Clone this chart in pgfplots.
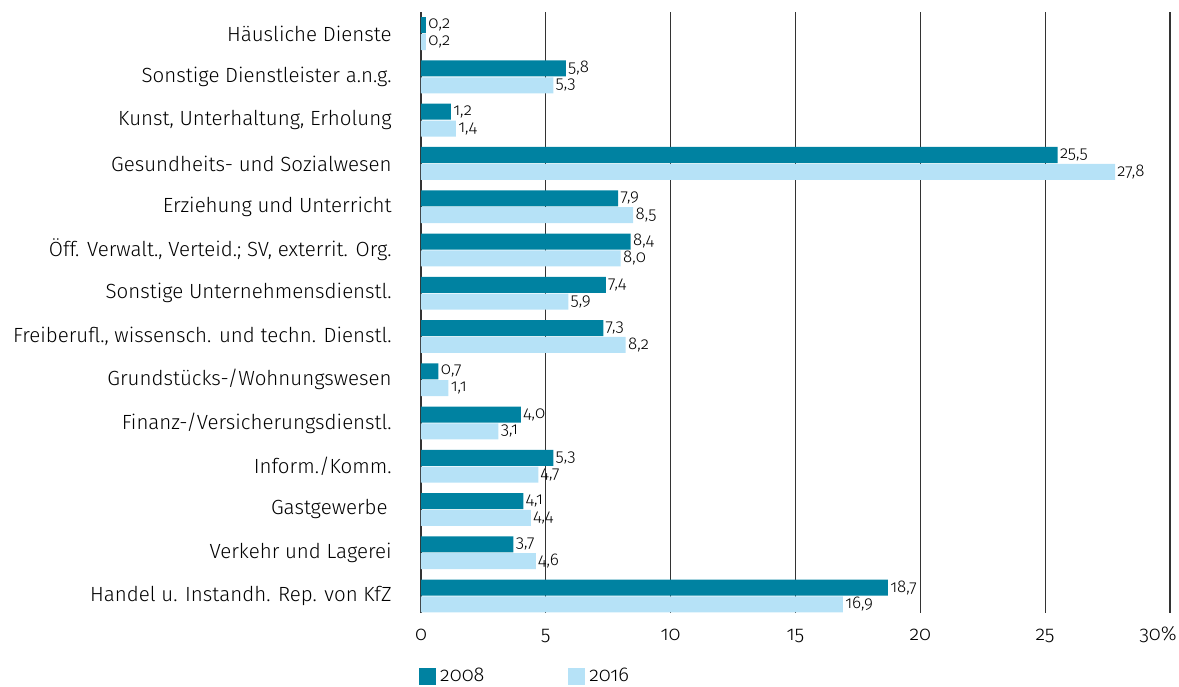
\documentclass[border=0pt]{standalone}
\usepackage{pgfplots}
\pgfplotsset{compat=1.18}
\usepackage{fontspec}
\setmainfont{Fira Sans}[UprightFont=* Light, Numbers=OldStyle]
\definecolor{cdark}{HTML}{0082A1}
\definecolor{clight}{HTML}{B6E2F7}
\begin{document}
\begin{tikzpicture}
\begin{axis}[
  at={(210.5pt,36.5pt)}, anchor=south west,
  scale only axis, width=374.5pt, height=300.5pt,
  xmin=0, xmax=30, ymin=-0.393, ymax=13.5,
  xbar, bar width=8pt,
  axis line style={draw=none},
  major tick length=0pt,
  xtick={0,5,10,15,20,25,30},
  xticklabels={0,5,10,15,20,25,\hspace*{-12pt}30\%},
  xticklabel style={anchor=base, inner sep=0pt, yshift=-14pt, font=\fontsize{10}{12}\selectfont},
  ytick={0,1,2,3,4,5,6,7,8,9,10,11,12,13},
  yticklabels={
    Handel u. Instandh. Rep. von KfZ,
    Verkehr und Lagerei,
    Gastgewerbe\hspace*{2pt},
    Inform./Komm.,
    Finanz-/Versicherungsdienstl.,
    Grundstücks-/Wohnungswesen,
    {Freiberufl., wissensch. und techn. Dienstl.},
    Sonstige Unternehmensdienstl.,
    {Öff. Verwalt., Verteid.; SV, exterrit. Org.},
    Erziehung und Unterricht,
    Gesundheits- und Sozialwesen,
    {Kunst, Unterhaltung, Erholung},
    Sonstige Dienstleister a.n.g.,
    Häusliche Dienste},
  yticklabel style={anchor=east, inner sep=0pt, xshift=-14.5pt, font=\fontsize{10.25}{12}\selectfont},
  xmajorgrids, grid style={color=black!80, line width=0.6pt},
  nodes near coords,
  nodes near coords style={anchor=west, inner sep=1pt, font=\fontsize{8.5}{10}\selectfont,
    /pgf/number format/.cd, fixed, fixed zerofill, precision=1, use comma, assume math mode=true},
  legend style={at={(0,0)}, anchor=north west, xshift=-1pt, yshift=-25.5pt, draw=none, fill=none,
    inner sep=0pt, font=\fontsize{10}{12}\selectfont, legend columns=2,
    /tikz/column 2/.style={column sep=40pt}},
  legend cell align=left,
]
\addplot[fill=cdark, draw=none, bar shift=4.2pt, forget plot] coordinates {
  (18.7,0) (3.7,1) (4.1,2) (5.3,3) (4.0,4) (0.7,5) (7.3,6) (7.4,7) (8.4,8) (7.9,9) (25.5,10) (1.2,11) (5.8,12) (0.2,13)};
\addplot[fill=clight, draw=none, bar shift=-4.2pt, forget plot] coordinates {
  (16.9,0) (4.6,1) (4.4,2) (4.7,3) (3.1,4) (1.1,5) (8.2,6) (5.9,7) (8.0,8) (8.5,9) (27.8,10) (1.4,11) (5.3,12) (0.2,13)};
\addlegendimage{legend image code/.code={\fill[cdark] (0pt,-4pt) rectangle (8pt,4pt);}}
\addlegendentry{2008}
\addlegendimage{legend image code/.code={\fill[clight] (0pt,-4pt) rectangle (8pt,4pt);}}
\addlegendentry{2016}
\end{axis}
\pgfresetboundingbox
\path[use as bounding box] (0,0) rectangle (589.5pt,343pt);
\end{tikzpicture}
\end{document}
